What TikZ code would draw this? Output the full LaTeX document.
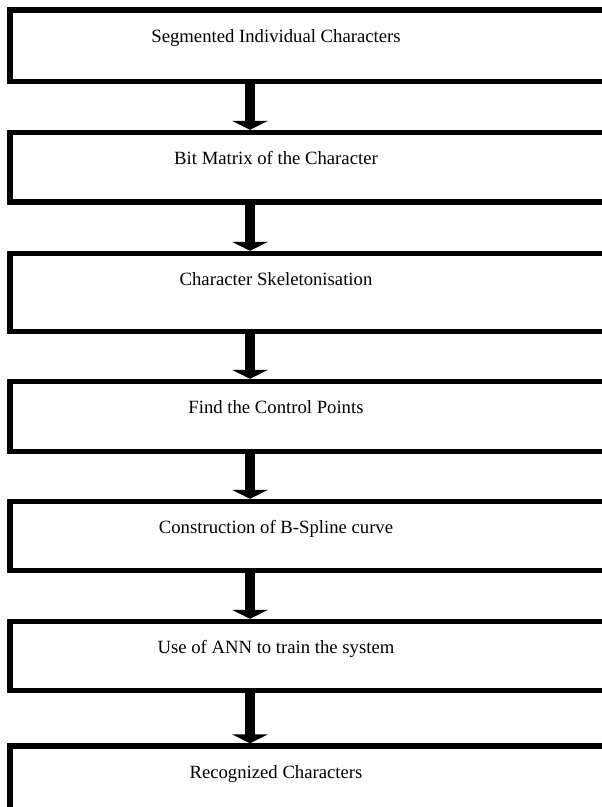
\documentclass[tikz,border=0pt]{standalone}
\usepackage{fontspec}
\setmainfont{Liberation Serif}
\usetikzlibrary{arrows.meta}
\begin{document}
\begin{tikzpicture}[x=1pt,y=-1pt,
  box/.style={draw,line width=5.5pt,minimum width=620pt,anchor=north west,inner sep=0pt,outer sep=0pt},
  lbl/.style={font=\fontsize{18.7}{22}\selectfont,anchor=base,inner sep=0pt},
  flow/.style={line width=10pt,-{Triangle[width=36pt,length=9pt]},shorten >=2.75pt}
]
\useasboundingbox (0,0) rectangle (602,807);
\fill[white] (0,0) rectangle (602,807);
\begin{scope}
\clip (0,0) rectangle (602,807);
\node[box,minimum height=71.5pt] (b1) at (10,10) {};
\node[box,minimum height=69.5pt] (b2) at (10,132.5) {};
\node[box,minimum height=78pt] (b3) at (10,253.5) {};
\node[box,minimum height=70pt] (b4) at (10,381.5) {};
\node[box,minimum height=69pt] (b5) at (10,501.5) {};
\node[box,minimum height=69pt] (b6) at (10,621.5) {};
\node[box,minimum height=80pt] (b7) at (10,746) {};
\end{scope}
\coordinate (ax) at (250,0);
\coordinate (tx) at (276,0);
\node[lbl] (t1) at ([yshift=-32pt]b1.north -| tx) {Segmented Individual Characters};
\node[lbl] (t2) at ([yshift=-32pt]b2.north -| tx) {Bit Matrix of the Character};
\node[lbl] (t3) at ([yshift=-32pt]b3.north -| tx) {Character Skeletonisation};
\node[lbl] (t4) at ([yshift=-32pt]b4.north -| tx) {Find the Control Points};
\node[lbl] (t5) at ([yshift=-32pt]b5.north -| tx) {Construction of B-Spline curve};
\node[lbl] (t6) at ([yshift=-32pt]b6.north -| tx) {Use of ANN to train the system};
\node[lbl] (t7) at ([yshift=-32pt]b7.north -| tx) {Recognized Characters};
\draw[flow] (b1.south -| ax) -- (b2.north -| ax);
\draw[flow] (b2.south -| ax) -- (b3.north -| ax);
\draw[flow] (b3.south -| ax) -- (b4.north -| ax);
\draw[flow] (b4.south -| ax) -- (b5.north -| ax);
\draw[flow] (b5.south -| ax) -- (b6.north -| ax);
\draw[flow] (b6.south -| ax) -- (b7.north -| ax);
\end{tikzpicture}
\end{document}
